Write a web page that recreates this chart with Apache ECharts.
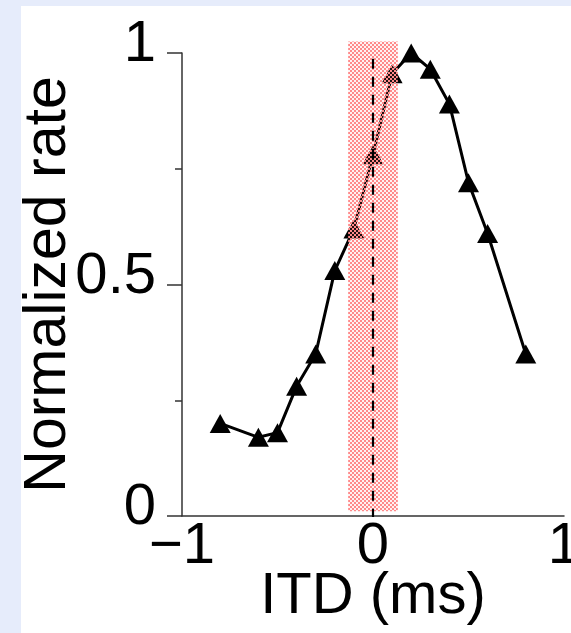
<!DOCTYPE html>
<html>
<head>
<meta charset="utf-8">
<script src="https://cdn.jsdelivr.net/npm/echarts@6/dist/echarts.min.js"></script>
<style>
html,body{margin:0;padding:0;background:#e6ecfb;}
#wrap{position:absolute;left:21px;top:6px;right:0;bottom:0;background:#fff;}
#chart{position:absolute;left:0;top:0;width:571px;height:633px;}
</style>
</head>
<body>
<div id="wrap"></div>
<div id="chart"></div>
<script>
// Data
const itd = [-0.8, -0.6, -0.5, -0.4, -0.3, -0.2, -0.1, 0.0, 0.1, 0.2, 0.3, 0.4, 0.5, 0.6, 0.8];
const rate = [0.20, 0.17, 0.18, 0.28, 0.35, 0.53, 0.62, 0.78, 0.955, 1.0, 0.965, 0.89, 0.72, 0.61, 0.35];
const bandX = [-0.13, 0.13];
const bandY = [0.01, 1.025];
const zeroLine = [[0, -0.006], [0, 1.0]];
const xTicks = [-1, 0, 1];
const yTicks = [0, 0.5, 1];

// checker pattern for the shaded band
const pc = document.createElement('canvas');
pc.width = 4; pc.height = 4;
const pctx = pc.getContext('2d');
pctx.fillStyle = 'rgba(255,150,150,0.12)';
pctx.fillRect(2, 0, 2, 2);
pctx.fillRect(0, 2, 2, 2);
pctx.fillStyle = 'rgb(255,138,138)';
pctx.fillRect(0, 0, 2, 2);
pctx.fillRect(2, 2, 2, 2);

const chart = echarts.init(document.getElementById('chart'));
const font = 'Liberation Sans, Arial, Helvetica, sans-serif';
chart.setOption({
  backgroundColor: 'transparent',
  animation: false,
  grid: {left: 182, right: 7, top: 53, bottom: 117, containLabel: false, outerBoundsMode: 'none'},
  xAxis: {
    type: 'value', min: -1, max: 1, interval: 1,
    axisLine: {onZero: false, lineStyle: {color: '#333', width: 1.5}},
    axisTick: {show: false},
    splitLine: {show: false},
    axisLabel: {
      fontFamily: font, fontSize: 58, color: '#000', margin: 2,
      formatter: v => xTicks.includes(v) ? String(v).replace('-', '\u2212') : ''
    },
    name: 'ITD (ms)', nameLocation: 'middle', nameGap: 52, nameMoveOverlap: false,
    nameTextStyle: {fontFamily: font, fontSize: 58, color: '#000'}
  },
  yAxis: {
    type: 'value', min: 0, max: 1, interval: 0.5,
    axisLine: {show: true, onZero: false, lineStyle: {color: '#333', width: 1.5}},
    axisTick: {show: true, length: 15, lineStyle: {color: '#333', width: 1.5}},
    minorTick: {show: true, splitNumber: 2, length: 7, lineStyle: {color: '#333', width: 1.5}},
    splitLine: {show: false},
    axisLabel: {
      fontFamily: font, fontSize: 58, color: '#000', margin: 26,
      verticalAlign: 'bottom', lineHeight: 16,
      formatter: v => yTicks.includes(v) ? String(v) : ''
    },
    name: 'Normalized rate', nameLocation: 'middle', nameGap: 104, nameMoveOverlap: false,
    nameTextStyle: {fontFamily: font, fontSize: 59, color: '#000'}
  },
  series: [
    {
      type: 'line', z: 2,
      data: itd.map((x, i) => [x, rate[i]]),
      lineStyle: {color: '#000', width: 3},
      itemStyle: {color: '#000'},
      symbol: 'triangle', symbolSize: [21, 19], showSymbol: true
    },
    {
      type: 'custom', z: 4,
      data: [[bandX[0], bandY[0], bandX[1], bandY[1]]],
      renderItem: function (params, api) {
        const p1 = api.coord([api.value(0), api.value(3)]);
        const p2 = api.coord([api.value(2), api.value(1)]);
        return {
          type: 'rect',
          shape: {x: p1[0], y: p1[1], width: p2[0] - p1[0], height: p2[1] - p1[1]},
          style: {fill: {image: pc, repeat: 'repeat'}}
        };
      }
    },
    {
      type: 'line', z: 5,
      data: zeroLine,
      symbol: 'none',
      lineStyle: {color: '#000', width: 2.2, type: [10, 8]}
    }
  ]
});
</script>
</body>
</html>
